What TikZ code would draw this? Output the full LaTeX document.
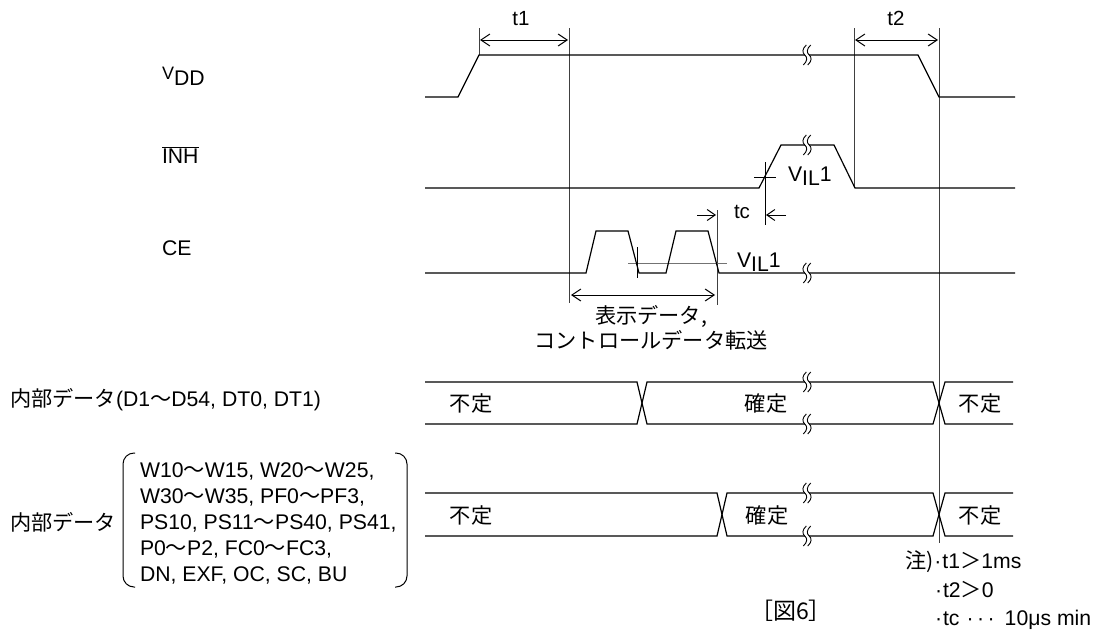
\documentclass[tikz,border=0pt]{standalone}
\usepackage{fontspec}
\setmainfont{Liberation Sans}
\newfontfamily\jp{Noto Sans CJK JP}
\usetikzlibrary{arrows.meta}
\tikzset{
  sig/.style={line width=1.2pt, line join=miter},
  guide/.style={line width=0.85pt, black!75},
  dimarrow/.style={line width=1pt, {Straight Barb[length=9pt,width=12pt]}-{Straight Barb[length=9pt,width=12pt]}},
  tcarrow/.style={line width=1pt, -{Straight Barb[length=8pt,width=11pt]}},
  lbl/.style={font=\fontsize{21.2}{25}\selectfont, inner sep=0pt, outer sep=0pt},
  small/.style={font=\fontsize{20.5}{24}\selectfont, inner sep=0pt, outer sep=0pt},
  brk/.pic={
    \fill[white] (-2.2,-2) rectangle (2.2,2);
    \foreach \dx in {-2.2,2.2}{
      \draw[line width=0.9pt] (\dx+1.5,-10) .. controls (\dx-3,-6) and (\dx-2.5,-2) .. (\dx,0)
        .. controls (\dx+2.5,2) and (\dx+3,6) .. (\dx-1.5,10);
    }
  }
}
\begin{document}
\begin{tikzpicture}[x=1pt,y=-1pt]
\useasboundingbox (0,0) rectangle (1107,635);

% ---------- labels on the left ----------
\node[lbl, anchor=base west] (lvdd) at (162,85) {\raisebox{6pt}{\fontsize{18}{20}\selectfont V}DD};
\node[lbl, anchor=base west] (linh) at (162,163) {$\overline{\mbox{INH}}$};
\node[lbl, anchor=base west] (lce) at (162,255) {CE};
\node[lbl, anchor=base west] (ld1) at (10,406) {{\jp 内部データ}(D1{\jp ～}D54, DT0, DT1)};
\node[lbl, anchor=base west] (ld2) at (10,530) {\jp 内部データ};
\node[lbl, anchor=base west] (b1) at (140,477) {W10{\jp ～}W15, W20{\jp ～}W25,};
\node[lbl, anchor=base west] (b2) at (140,503) {W30{\jp ～}W35, PF0{\jp ～}PF3,};
\node[lbl, anchor=base west] (b3) at (140,529) {PS10, PS11{\jp ～}PS40, PS41,};
\node[lbl, anchor=base west] (b4) at (140,555) {P0{\jp ～}P2, FC0{\jp ～}FC3,};
\node[lbl, anchor=base west] (b5) at (140,581) {DN, EXF, OC, SC, BU};
\draw[line width=1pt, rounded corners=11pt] (135,453) -- (123,453) -- (123,587) -- (135,587);
\draw[line width=1pt, rounded corners=11pt] (395,453) -- (407,453) -- (407,587) -- (395,587);

% ---------- guide lines ----------
\draw[guide] (479,28) -- (479,55);
\draw[guide] (569,28) -- (569,303);
\draw[guide] (854,28) -- (854,188);
\draw[guide] (939,28) -- (939,543);
\draw[guide] (717,210) -- (717,305);

% ---------- VDD ----------
\draw[sig] (425,97) -- (458,97) -- (479,55) -- (918,55) -- (939,97) -- (1015,97);
\pic at (807,55) {brk};
\coordinate (t1a) at (480,40); \coordinate (t1b) at (568,40);
\draw[dimarrow] (t1a) -- (t1b);
\node[small, anchor=base] (lt1) at (521,25) {t1};
\coordinate (t2a) at (855,40); \coordinate (t2b) at (938,40);
\draw[dimarrow] (t2a) -- (t2b);
\node[small, anchor=base] (lt2) at (896,25) {t2};

% ---------- INH ----------
\draw[sig] (425,188) -- (759,188) -- (781,145) -- (834,145) -- (855,188) -- (1015,188);
\pic at (807,145) {brk};
\draw[line width=0.8pt] (754,177) -- (776,177);
\draw[line width=0.8pt] (765,162) -- (765,225);
\node[lbl, anchor=base west] (vil1) at (788,181) {V\raisebox{-4pt}{IL}1};
% tc
\node[small, anchor=base west] (ltc) at (734,218) {tc};
\coordinate (tca) at (697,215); \coordinate (tcb) at (716,215);
\draw[tcarrow] (tca) -- (tcb);
\coordinate (tcc) at (786,215); \coordinate (tcd) at (766,215);
\draw[tcarrow] (tcc) -- (tcd);

% ---------- CE ----------
\draw[line width=1pt, black!55] (628,263) -- (727,263);
\draw[line width=0.8pt] (637,247) -- (637,278);
\draw[sig] (425,273) -- (586,273) -- (596,231) -- (628,231) -- (639,273) -- (666,273)
  -- (676,231) -- (708,231) -- (719,273) -- (1015,273);
\pic at (807,273) {brk};
\node[lbl, anchor=base west] (vil2) at (737,267) {V\raisebox{-4pt}{IL}1};
\coordinate (ta) at (571,295); \coordinate (tb) at (715,295);
\draw[dimarrow] (ta) -- (tb);
\node[lbl, anchor=base west] (tr1) at (595,323) {\jp 表示データ,};
\node[lbl, anchor=base] (tr2) at (651,348) {\jp コントロールデータ転送};

% ---------- data bus 1 ----------
\draw[sig] (425,382) -- (637,382) -- (647,424) -- (933,424) -- (945,382) -- (1013,382);
\draw[sig] (425,424) -- (637,424) -- (647,382) -- (933,382) -- (945,424) -- (1013,424);
\pic at (807,382) {brk};
\pic at (807,424) {brk};
\node[lbl] (d1a) at (471,403) {\jp 不定};
\node[lbl] (d1b) at (766,403) {\jp 確定};
\node[lbl] (d1c) at (980,403) {\jp 不定};

% ---------- data bus 2 ----------
\draw[sig] (425,493) -- (717,493) -- (727,536) -- (933,536) -- (945,493) -- (1013,493);
\draw[sig] (425,536) -- (717,536) -- (727,493) -- (933,493) -- (945,536) -- (1013,536);
\pic at (807,493) {brk};
\pic at (807,536) {brk};
\node[lbl] (d2a) at (471,515) {\jp 不定};
\node[lbl] (d2b) at (767,515) {\jp 確定};
\node[lbl] (d2c) at (980,515) {\jp 不定};

% ---------- notes ----------
\node[lbl, anchor=base west] (n1) at (905,568) {{\jp 注)}\hspace{1pt}·\hspace{1pt}t1{\jp ＞}1ms};
\node[lbl, anchor=base west] (n2) at (935,597) {·\hspace{1pt}t2{\jp ＞}0};
\node[lbl, anchor=base west] (n3) at (935,625) {·\hspace{1pt}tc\hspace{7pt}·\hspace{3.5pt}·\hspace{3.5pt}·\hspace{10pt}10μs min};
\node[lbl, anchor=base, font=\fontsize{23}{26}\selectfont] (cap) at (791,619) {\jp ［図6］};
\end{tikzpicture}
\end{document}
